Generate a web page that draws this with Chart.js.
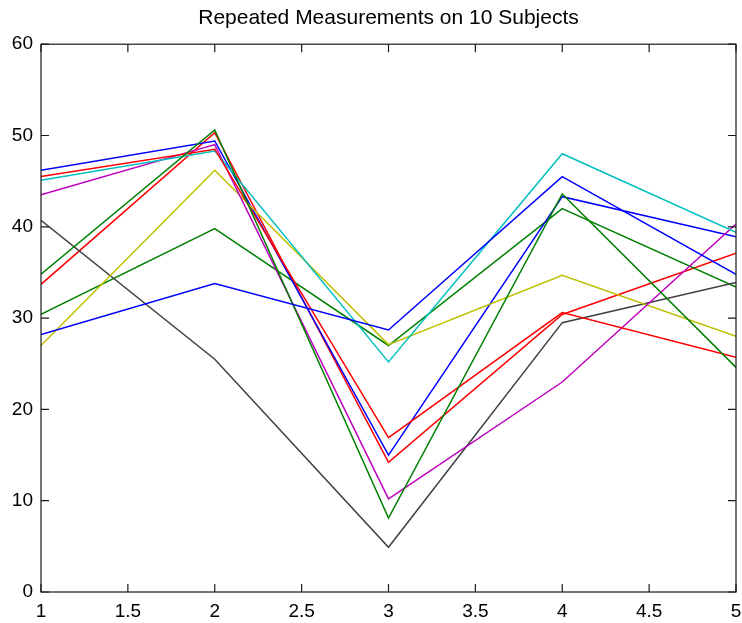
<!DOCTYPE html>
<html>
<head>
<meta charset="utf-8">
<script src="https://cdn.jsdelivr.net/npm/chart.js@4/dist/chart.umd.min.js"></script>
<style>
  html, body { margin: 0; padding: 0; background: #fff; }
  #wrap { width: 742px; height: 623px; }
</style>
</head>
<body>
<div id="wrap"><canvas id="chart"></canvas></div>
<script>
// measurement times (x) and the 10 subjects, in MATLAB colour order
const times = [1, 2, 3, 4, 5];
const subject1 = [28.2, 33.8, 28.7, 45.5, 34.8];   // blue
const subject2 = [34.8, 50.6, 8.1, 43.6, 24.6];    // green
const subject3 = [45.5, 48.5, 16.9, 30.6, 25.7];   // red
const subject4 = [45.1, 48.3, 25.2, 48.0, 39.4];   // cyan
const subject5 = [43.5, 49.0, 10.2, 23.0, 40.3];   // magenta
const subject6 = [27.0, 46.2, 27.1, 34.7, 28.0];   // yellow
const subject7 = [40.7, 25.5, 4.9, 29.5, 33.9];    // black
const subject8 = [46.2, 49.4, 15.0, 43.3, 38.9];   // blue
const subject9 = [30.4, 39.8, 27.0, 42.0, 33.4];   // green
const subject10 = [33.7, 50.3, 14.2, 30.4, 37.1];  // red

const subjects = [subject1, subject2, subject3, subject4, subject5,
                  subject6, subject7, subject8, subject9, subject10];
const colors = ['#0000ff', '#008000', '#ff0000', '#00bfbf', '#bf00bf',
                '#bfbf00', '#404040', '#0000ff', '#008000', '#ff0000'];

const xTicks = [1, 1.5, 2, 2.5, 3, 3.5, 4, 4.5, 5];
const yTicks = [0, 10, 20, 30, 40, 50, 60];

const tickFont = { family: 'Liberation Sans, Arial, sans-serif', size: 19 };

// MATLAB-ish box with inward ticks on all four sides
const boxTicks = {
    id: 'boxTicks',
    afterDatasetsDraw(chart) {
        const { ctx, chartArea: a, scales } = chart;
        const len = 8;
        ctx.save();
        ctx.strokeStyle = '#1a1a1a';
        ctx.lineWidth = 1.2;
        ctx.strokeRect(a.left, a.top, a.right - a.left, a.bottom - a.top);
        ctx.beginPath();
        xTicks.forEach(v => {
            const px = scales.x.getPixelForValue(v);
            ctx.moveTo(px, a.bottom); ctx.lineTo(px, a.bottom - len);
            ctx.moveTo(px, a.top); ctx.lineTo(px, a.top + len);
        });
        yTicks.forEach(v => {
            const py = scales.y.getPixelForValue(v);
            ctx.moveTo(a.left, py); ctx.lineTo(a.left + len, py);
            ctx.moveTo(a.right, py); ctx.lineTo(a.right - len, py);
        });
        ctx.stroke();
        ctx.restore();
    }
};

new Chart(document.getElementById('chart'), {
    type: 'line',
    data: {
        labels: times,
        datasets: subjects.map((s, i) => ({
            label: 'Subject ' + (i + 1),
            data: s.map((v, j) => ({ x: times[j], y: v })),
            borderColor: colors[i],
            borderWidth: 1.5,
            pointRadius: 0,
            tension: 0,
            fill: false
        }))
    },
    plugins: [boxTicks],
    options: {
        responsive: true,
        maintainAspectRatio: false,
        animation: false,
        layout: { padding: { left: 0, right: 6, top: 0, bottom: 0 } },
        plugins: {
            legend: { display: false },
            tooltip: { enabled: false },
            title: {
                display: true,
                text: 'Repeated Measurements on 10 Subjects',
                fullSize: false,
                color: '#000',
                font: { family: 'Liberation Sans, Arial, sans-serif', size: 21, weight: 'normal' },
                padding: { top: 6, bottom: 13 }
            }
        },
        scales: {
            x: {
                type: 'linear',
                min: 1,
                max: 5,
                afterBuildTicks: s => { s.ticks = xTicks.map(v => ({ value: v })); },
                afterFit: s => { s.height = 31; s.paddingLeft = 0; s.paddingRight = 0; },
                grid: { display: false, drawTicks: false },
                border: { display: false },
                ticks: { color: '#000', font: tickFont, padding: 8, maxRotation: 0,
                         callback: v => String(v) }
            },
            y: {
                type: 'linear',
                min: 0,
                max: 60,
                afterBuildTicks: s => { s.ticks = yTicks.map(v => ({ value: v })); },
                afterFit: s => { s.width = 41; s.paddingTop = 0; s.paddingBottom = 0; },
                grid: { display: false, drawTicks: false },
                border: { display: false },
                ticks: { color: '#000', font: tickFont, padding: 8, callback: v => String(v) }
            }
        }
    }
});
</script>
</body>
</html>
